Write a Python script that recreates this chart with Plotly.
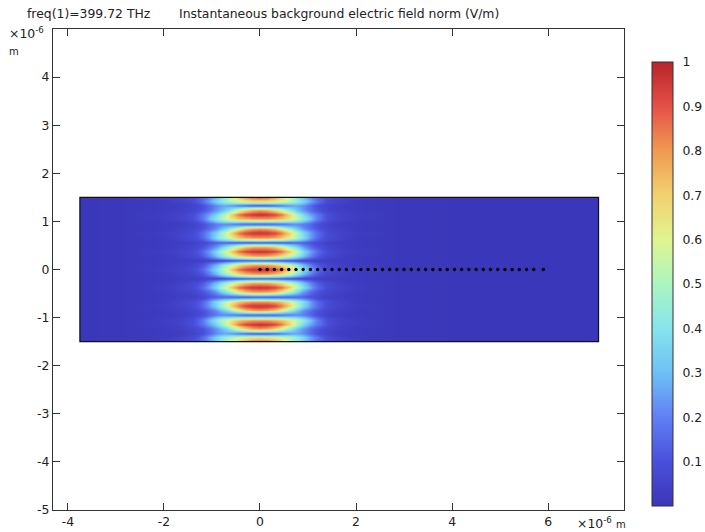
import plotly.graph_objects as go

# Field table: rows are y >= 0, columns are x >= 0 (the pattern mirrors about both axes)
x_half = [0, .15, .3, .45, .6, .75, .9, 1.05, 1.2, 1.4, 1.65, 2.0, 2.6, 3.75]
y_half = [0, .09, .19, .28, .375, .47, .57, .66, .76, .85, .95, 1.05, 1.14, 1.24, 1.33, 1.42, 1.5]
field_half = [
    [.97, .96, .93, .86, .72, .54, .38, .26, .15, .08, .05, .03, .01, .005],
    [.80, .79, .75, .68, .57, .44, .30, .20, .11, .06, .04, .02, .01, .005],
    [.12, .12, .11, .10, .09, .07, .06, .05, .04, .03, .03, .02, .01, .005],
    [.79, .78, .74, .67, .57, .45, .32, .21, .12, .07, .04, .02, .01, .005],
    [.97, .96, .93, .86, .72, .55, .38, .26, .15, .08, .05, .03, .01, .005],
    [.79, .78, .73, .64, .50, .37, .24, .16, .10, .06, .04, .02, .01, .005],
    [.10, .10, .10, .11, .12, .14, .13, .10, .07, .04, .03, .02, .01, .005],
    [.79, .79, .76, .71, .62, .50, .38, .25, .14, .08, .05, .02, .01, .005],
    [.97, .96, .93, .85, .71, .52, .36, .25, .15, .08, .05, .03, .01, .005],
    [.79, .76, .70, .59, .46, .33, .22, .16, .10, .06, .04, .02, .01, .005],
    [.10, .11, .12, .15, .18, .21, .19, .14, .09, .05, .03, .02, .01, .005],
    [.79, .79, .76, .72, .65, .55, .43, .31, .18, .09, .05, .03, .01, .005],
    [.98, .96, .93, .85, .70, .51, .36, .26, .17, .09, .05, .03, .01, .005],
    [.79, .76, .68, .57, .44, .31, .23, .16, .10, .06, .04, .02, .01, .005],
    [.10, .11, .14, .18, .23, .26, .22, .15, .09, .05, .03, .02, .01, .005],
    [.66, .65, .62, .58, .53, .45, .36, .26, .16, .08, .05, .02, .01, .005],
    [.85, .83, .77, .68, .56, .42, .31, .22, .14, .08, .05, .03, .01, .005],
]
x_right_end = 7.05
dot_x = [0, .15, .3, .45, .6, .75, .9, 1.05, 1.2, 1.35, 1.5, 1.65, 1.8, 1.95, 2.1, 2.25, 2.4, 2.55, 2.7, 2.85,
         3.0, 3.15, 3.3, 3.45, 3.6, 3.75, 3.9, 4.05, 4.2, 4.35, 4.5, 4.65, 4.8, 4.95, 5.1, 5.25, 5.4, 5.55, 5.7, 5.9]
dot_y = [0] * len(dot_x)
x_ticks = [-4, -2, 0, 2, 4, 6]
x_tick_labels = ["-4", "-2", "0", "2", "4", "6"]
y_ticks = [-5, -4, -3, -2, -1, 0, 1, 2, 3, 4, 5]
y_tick_labels = ["-5", "-4", "-3", "-2", "-1", "0", "1", "2", "3", "4", ""]
cbar_ticks = [.1, .2, .3, .4, .5, .6, .7, .8, .9, 1]
cbar_labels = ["0.1", "0.2", "0.3", "0.4", "0.5", "0.6", "0.7", "0.8", "0.9", "1"]
colorscale = [
    [0.0, "#3a36b8"], [0.1, "#4a50dc"], [0.2, "#5f80f5"], [0.3, "#6ec0f5"], [0.4, "#86e4ec"],
    [0.5, "#acf5c0"], [0.6, "#e0f590"], [0.7, "#f2d070"], [0.8, "#f09a50"], [0.9, "#e55048"], [1.0, "#b82428"],
]

# Full grid from the mirrored table
x_cent = [-v for v in x_half[:0:-1]] + x_half + [x_right_end]
y_cent = [-v for v in y_half[:0:-1]] + y_half
rows = field_half[:0:-1] + field_half
z = [r[:0:-1] + r + [r[-1]] for r in rows]


def edges(c):
    mids = [(a + b) / 2 for a, b in zip(c[:-1], c[1:])]
    return [c[0]] + mids + [c[-1]]


FONT = "DejaVu Sans"
FS = 12.4
W, H = 705, 532
L, R, T, B = 53, 624, 29, 510
fig = go.Figure()
fig.add_trace(go.Heatmap(
    x=edges(x_cent), y=edges(y_cent), z=z, zmin=0, zmax=1, zsmooth="best",
    colorscale=colorscale, hoverinfo="skip",
    colorbar=dict(
        thickness=21, thicknessmode="pixels", len=444, lenmode="pixels",
        x=(652 - L) / (R - L), xanchor="left", xpad=0, y=(B - 284) / (B - T), yanchor="middle", ypad=0,
        outlinecolor="#333333", outlinewidth=1, tickmode="array", tickvals=cbar_ticks, ticktext=cbar_labels,
        ticks="outside", ticklen=7, tickcolor="rgba(0,0,0,0)", tickwidth=1,
        tickfont=dict(family=FONT, size=FS, color="#222222"),
    ),
))
# Domain outline
fig.add_shape(type="rect", x0=x_cent[0], x1=x_cent[-1], y0=y_cent[0], y1=y_cent[-1],
              line=dict(color="#111111", width=1.2), layer="above")
fig.add_trace(go.Scatter(x=dot_x, y=dot_y, mode="markers", marker=dict(color="black", size=3.4),
                         hoverinfo="skip", showlegend=False))
# Colour bar ticks on both inner edges
for v in cbar_ticks[:-1]:
    py = (B - (506 - v * 444)) / (B - T)
    for a, b in ((652, 656), (669, 673)):
        fig.add_shape(type="line", xref="paper", yref="paper",
                      x0=(a - L) / (R - L), x1=(b - L) / (R - L), y0=py, y1=py,
                      line=dict(color="#222222", width=1))
axis_common = dict(showgrid=False, zeroline=False, showline=True, linecolor="#333333", linewidth=1.2,
                   mirror="ticks", ticks="inside", ticklen=7, tickcolor="#333333", tickwidth=1,
                   tickfont=dict(family=FONT, size=FS, color="#222222"), tickmode="array")
fig.update_layout(
    width=W, height=H, autosize=False, margin=dict(l=L, r=W - R, t=T, b=H - B, autoexpand=False),
    paper_bgcolor="white", plot_bgcolor="white", showlegend=False,
    xaxis=dict(range=[-4.31, 7.58], tickvals=x_ticks, ticktext=x_tick_labels, **axis_common),
    yaxis=dict(range=[-5, 5], tickvals=y_ticks, ticktext=y_tick_labels, **axis_common),
)


def note(text, px, py, size=FS, anchor="left"):
    fig.add_annotation(text=text, xref="paper", yref="paper", x=(px - L) / (R - L), y=(B - py) / (B - T),
                       xanchor=anchor, yanchor="middle", showarrow=False,
                       font=dict(family=FONT, size=size, color="#222222"))


note("freq(1)=399.72 THz", 25, 14)
note("Instantaneous background electric field norm (V/m)", 177, 14)
note("×10<sup>-6</sup>", 7, 33)
note("m", 7, 51, size=10)
note("×10<sup>-6</sup>", 575, 523)
note("m", 614, 524, size=10)

fig.write_html("out.html", config=dict(displayModeBar=False),
               post_script="document.body.style.margin='0';document.body.style.overflow='hidden';")
